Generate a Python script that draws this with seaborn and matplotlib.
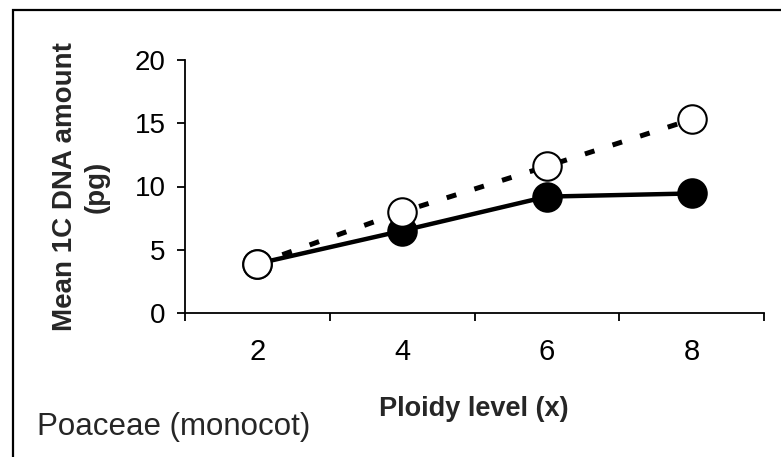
import matplotlib
matplotlib.use("Agg")
import matplotlib.pyplot as plt
import matplotlib.patches as mpatches
import seaborn as sns
import pandas as pd

ploidy = ["2", "4", "6", "8"]
filled_vals = [3.9, 6.5, 9.2, 9.45]
open_vals = [3.9, 8.0, 11.6, 15.3]
y_ticks = [0, 5, 10, 15, 20]

sns.set_theme(style="ticks")
plt.rcParams["font.family"] = ["Liberation Sans", "DejaVu Sans"]

pos = list(range(len(ploidy)))
df_f = pd.DataFrame({"x": pos, "y": filled_vals})
df_o = pd.DataFrame({"x": pos, "y": open_vals})

fig = plt.figure(figsize=(7.81, 4.57), dpi=100)
ax = fig.add_axes([185/781, 1-313/457, (764-185)/781, (313-60)/457])

sns.lineplot(data=df_f, x="x", y="y", ax=ax, color="black", lw=3.2,
             marker="o", markersize=20.5, markerfacecolor="black",
             markeredgecolor="black", markeredgewidth=1.5, zorder=3)
sns.lineplot(data=df_o, x="x", y="y", ax=ax, color="black", lw=3.6,
             linestyle=(0.5, (2.0, 3.8)),
             marker="o", markersize=20.5, markerfacecolor="white",
             markeredgecolor="black", markeredgewidth=1.5, zorder=4)

ax.set_xlim(-0.5, len(ploidy) - 0.5)
ax.set_ylim(0, 20)
ax.set_yticks(y_ticks)
ax.set_yticklabels([str(v) for v in y_ticks], fontsize=20)
ax.set_xticks([p - 0.5 for p in pos] + [len(ploidy) - 0.5])
ax.set_xticklabels([])
ax.set_xticks(pos, minor=True)
ax.set_xticklabels(ploidy, minor=True, fontsize=21)
ax.tick_params(axis="x", which="minor", length=0, pad=18)
ax.tick_params(axis="both", which="major", direction="out", length=6,
               width=1.3, color="black")
ax.tick_params(axis="y", pad=8, labelcolor="black")
ax.tick_params(axis="x", which="minor", labelcolor="black")

for s in ["top", "right"]:
    ax.spines[s].set_visible(False)
for s in ["left", "bottom"]:
    ax.spines[s].set_color("black")
    ax.spines[s].set_linewidth(1.3)

ax.set_xlabel("")
ax.set_ylabel("")
fig.text(81/781, 1-187/457, "Mean 1C DNA amount\n(pg)", rotation=90,
         ha="center", va="center", fontsize=20, fontweight="bold",
         linespacing=1.3)
fig.text(474/781, 1-409/457, "Ploidy level (x)", ha="center", va="center",
         fontsize=19.5, fontweight="bold")
fig.text(37/781, 1-427/457, "Poaceae (monocot)", ha="left", va="center",
         fontsize=22.5)

border = mpatches.Rectangle((12.5/781, -0.1), 1.2, 1 - 9.5/457 + 0.1,
                            transform=fig.transFigure, fill=False,
                            edgecolor="black", lw=1.6, clip_on=False)
fig.patches.append(border)

fig.savefig("out.png", dpi=100)
